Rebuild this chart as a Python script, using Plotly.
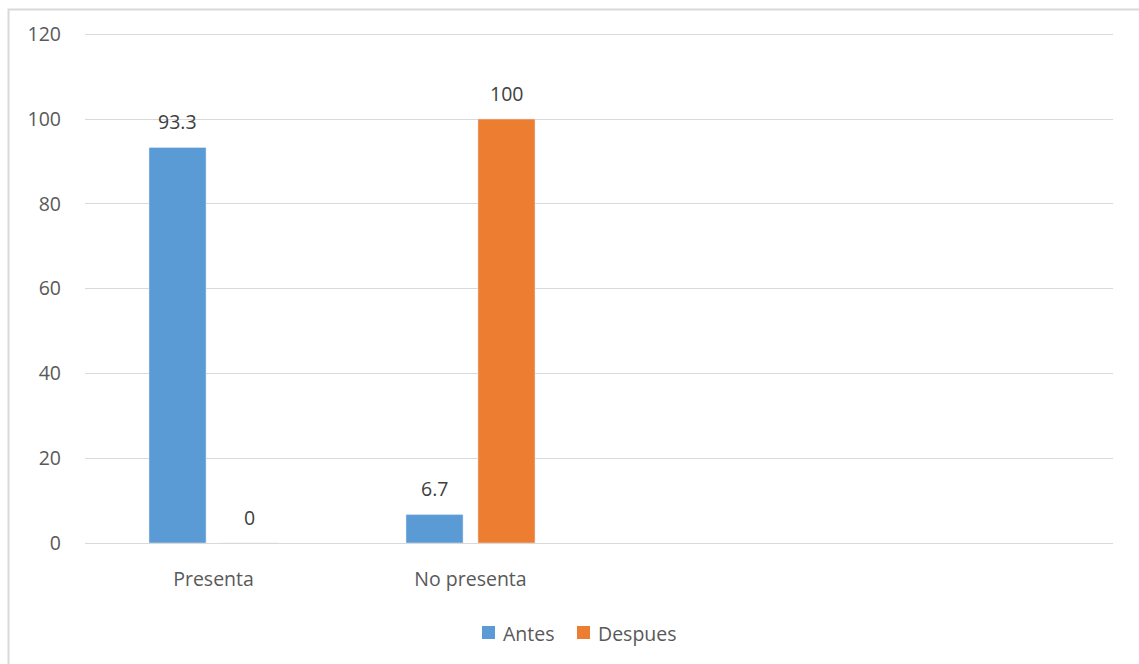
import plotly.graph_objects as go

categories = ["Presenta", "No presenta"]
antes = [93.3, 6.7]
despues = [0, 100]
y_ticks = [0, 20, 40, 60, 80, 100, 120]

BLUE = "#5B9BD5"
ORANGE = "#ED7D31"
FONT = "Open Sans"
FS = 19.5

x_pos = list(range(len(categories)))

# bar geometry in category units (4 category slots on the axis)
BAR_W = 0.222
BAR_GAP = 0.058
series = [
    ("Antes", antes, BLUE, -BAR_GAP / 2 - BAR_W),
    ("Despues", despues, ORANGE, BAR_GAP / 2),
]

fig = go.Figure()
annotations = []
for name, values, color, off in series:
    fig.add_trace(go.Bar(
        name=name, x=x_pos, y=values, marker_color=color,
        width=BAR_W, offset=off, showlegend=False,
    ))
    for xi, v in zip(x_pos, values):
        annotations.append(dict(
            x=xi + off + BAR_W / 2, y=v, xref="x", yref="y",
            text=f"{v:g}", showarrow=False, yshift=26,
            font=dict(size=FS, color="#404040", family=FONT),
        ))

# legend drawn as swatches plus labels below the plot
legend_items = [("Antes", BLUE, 482), ("Despues", ORANGE, 577)]
L, R, T, B = 85, 26, 30, 121
PW, PH = 1139 - L - R, 664 - T - B
BASE = 664 - B
shapes = []
for label, color, px in legend_items:
    shapes.append(dict(type="rect", xref="paper", yref="paper",
                       x0=(px - L) / PW, x1=(px + 13 - L) / PW,
                       y0=(BASE - 639) / PH, y1=(BASE - 626) / PH,
                       fillcolor=color, line=dict(width=0)))
    annotations.append(dict(
        x=(px + 19 - L) / PW, y=(BASE - 633) / PH, xref="paper", yref="paper",
        xanchor="left", yanchor="middle", text=label, showarrow=False,
        font=dict(size=FS, color="#595959", family=FONT),
    ))

# outer chart frame, running past the right and bottom edges of the page
shapes.append(dict(type="rect", xref="paper", yref="paper",
                   x0=(8.5 - L) / PW, y0=-0.5, x1=1.2, y1=1 + (T - 9.5) / PH,
                   line=dict(color="#d9d9d9", width=2), layer="below"))

fig.update_layout(
    width=1139, height=664,
    margin=dict(l=L, r=R, t=T, b=B),
    paper_bgcolor="white", plot_bgcolor="white",
    barmode="overlay",
    font=dict(family=FONT, color="#595959", size=FS),
    showlegend=False,
    annotations=annotations,
    shapes=shapes,
    xaxis=dict(range=[-0.5, 3.5], tickvals=x_pos, ticktext=categories,
               showgrid=False, zeroline=False, showline=False,
               ticks="", ticklabelstandoff=22,
               tickfont=dict(size=FS, color="#595959")),
    yaxis=dict(range=[0, 121], tickvals=y_ticks,
               showgrid=True, gridcolor="#d9d9d9", gridwidth=1,
               zeroline=True, zerolinecolor="#d9d9d9", zerolinewidth=1,
               showline=False, ticks="", ticklabelstandoff=23,
               tickfont=dict(size=FS, color="#595959")),
)

fig.write_html("out.html")
